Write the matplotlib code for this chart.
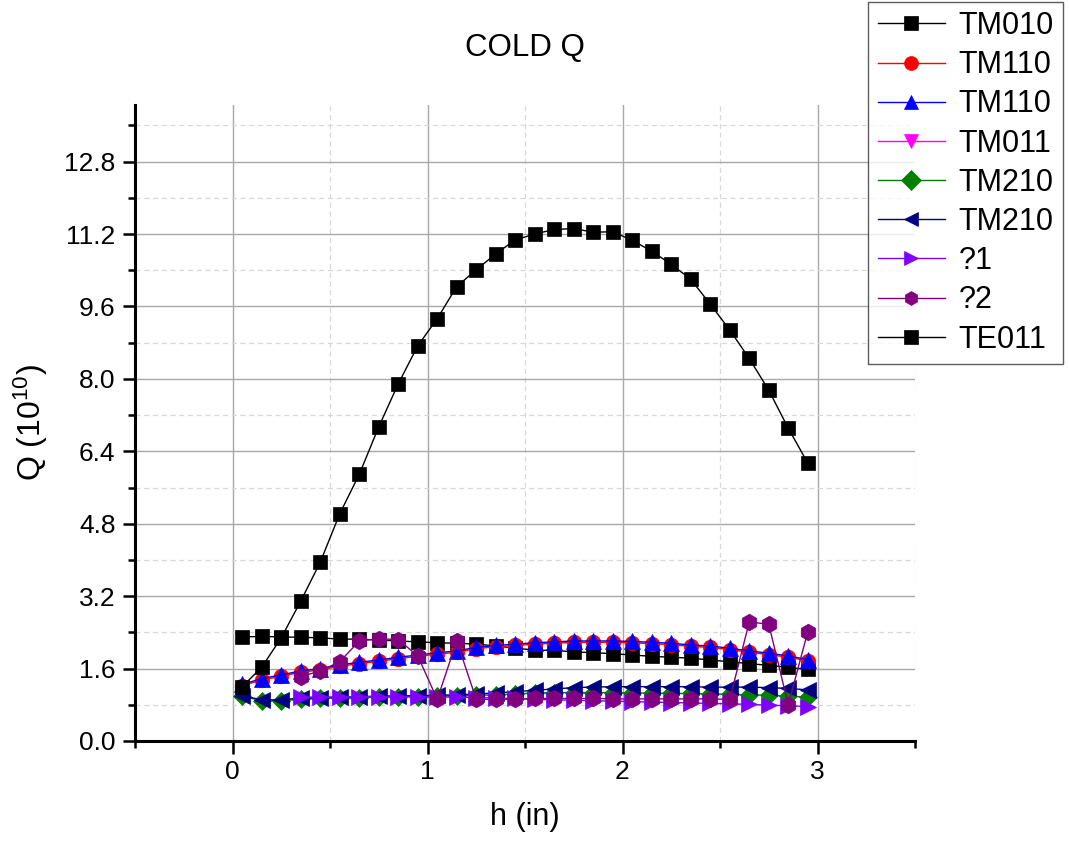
import numpy as np
import matplotlib
matplotlib.use("Agg")
import matplotlib.pyplot as plt
from matplotlib.ticker import MultipleLocator, FormatStrFormatter

plt.rcParams['font.family'] = ['Liberation Sans', 'DejaVu Sans']
plt.rcParams['mathtext.fontset'] = 'custom'
plt.rcParams['mathtext.rm'] = 'Liberation Sans'
plt.rcParams['mathtext.it'] = 'Liberation Sans'
plt.rcParams['mathtext.bf'] = 'Liberation Sans'
plt.rcParams['mathtext.default'] = 'rm'

nan = np.nan
h = [0.05, 0.15, 0.25, 0.35, 0.45, 0.55, 0.65, 0.75, 0.85, 0.95,
     1.05, 1.15, 1.25, 1.35, 1.45, 1.55, 1.65, 1.75, 1.85, 1.95,
     2.05, 2.15, 2.25, 2.35, 2.45, 2.55, 2.65, 2.75, 2.85, 2.95]

tm010 = [2.30, 2.31, 2.30, 2.29, 2.28, 2.25, 2.25, 2.23, 2.21, 2.19,
         2.17, 2.16, 2.14, 2.10, 2.05, 2.01, 2.00, 1.97, 1.95, 1.93,
         1.90, 1.87, 1.85, 1.83, 1.79, 1.75, 1.71, 1.67, 1.63, 1.58]
tm110_red = [1.22, 1.35, 1.43, 1.52, 1.57, 1.65, 1.71, 1.76, 1.82, 1.87,
             1.92, 1.96, 2.04, 2.08, 2.11, 2.14, 2.16, 2.18, 2.18, 2.18,
             2.17, 2.15, 2.13, 2.09, 2.07, 2.02, 1.96, 1.91, 1.85, 1.77]
tm110_blue = [1.25, 1.38, 1.46, 1.55, 1.60, 1.68, 1.74, 1.79, 1.85, 1.90,
              1.95, 1.99, 2.07, 2.11, 2.14, 2.17, 2.19, 2.21, 2.21, 2.21,
              2.20, 2.18, 2.16, 2.12, 2.10, 2.05, 1.99, 1.94, 1.88, 1.80]
tm011 = []  # not visible in the reference (hidden / no data)
tm210_green = [0.99, 0.89, 0.89, 0.92, 0.94, 0.95, 0.96, 0.97, 0.98, 0.98,
               0.99, 1.00, 1.01, 1.02, 1.04, 1.06, 1.07, 1.07, 1.07, 1.07,
               1.06, 1.06, 1.05, 1.05, 1.04, 1.03, 1.02, 1.01, 0.99, 0.97]
tm210_navy = [1.00, 0.91, 0.91, 0.95, 0.96, 0.97, 0.98, 0.99, 1.00, 1.00,
              1.01, 1.02, 1.04, 1.06, 1.09, 1.12, 1.15, 1.18, 1.19, 1.20,
              1.20, 1.20, 1.20, 1.20, 1.19, 1.19, 1.19, 1.18, 1.16, 1.13]
q1 = [nan, nan, nan, 0.97, 0.97, 0.97, 0.98, 0.98, 0.98, 0.98,
      0.97, 0.97, 0.96, 0.95, 0.94, 0.92, 0.91, 0.90, 0.89, 0.88,
      0.87, 0.86, 0.85, 0.84, 0.83, 0.82, 0.81, 0.79, 0.78, 0.76]
q2 = [nan, nan, nan, 1.42, 1.55, 1.75, 2.21, 2.26, 2.24, 1.88,
      0.92, 2.21, 0.92, 0.92, 0.92, 0.94, 0.94, 0.94, 0.94, 0.93,
      0.93, 0.93, 0.93, 0.93, 0.93, 0.92, 2.63, 2.58, 0.80, 2.41]
te011 = [1.20, 1.63, 2.28, 3.09, 3.95, 5.02, 5.89, 6.94, 7.89, 8.73,
         9.33, 10.04, 10.41, 10.76, 11.07, 11.20, 11.30, 11.32, 11.24, 11.25,
         11.06, 10.82, 10.53, 10.20, 9.65, 9.08, 8.45, 7.75, 6.91, 6.14]

series = [
    ("TM010", tm010, "#000000", "s", 9.5),
    ("TM110", tm110_red, "#FF0000", "o", 10.5),
    ("TM110", tm110_blue, "#0000FF", "^", 11.5),
    ("TM011", tm011, "#FF00FF", "v", 11.5),
    ("TM210", tm210_green, "#008000", "D", 9),
    ("TM210", tm210_navy, "#000080", "<", 11.5),
    ("?1", q1, "#8000FF", ">", 11.5),
    ("?2", q2, "#800080", "h", 12),
    ("TE011", te011, "#000000", "s", 9.5),
]

W, H = 1069, 842
fig = plt.figure(figsize=(W / 100, H / 100), dpi=100)
ax = fig.add_axes([135 / W, 1 - 741 / H, (915 - 135) / W, (741 - 105) / H])

for name, vals, col, mk, ms in series:
    xs = h[:len(vals)]
    ax.plot(xs, vals, color=col, lw=1.0, marker=mk, markersize=ms,
            markerfacecolor=col, markeredgecolor=col, markeredgewidth=0.5,
            label=name)

ax.set_xlim(-0.5, 3.5)
ax.set_ylim(0, 14.05)
ax.xaxis.set_major_locator(MultipleLocator(1))
ax.xaxis.set_minor_locator(MultipleLocator(0.5))
ax.yaxis.set_major_locator(MultipleLocator(1.6))
ax.yaxis.set_minor_locator(MultipleLocator(0.8))
ax.yaxis.set_major_formatter(FormatStrFormatter('%.1f'))

ax.grid(which='major', color='#A8A8A8', lw=1.0, ls='-')
ax.grid(which='minor', color='#D8D8D8', lw=0.9, ls=(0, (4, 3)))
ax.set_axisbelow(True)

for s in ['top', 'right']:
    ax.spines[s].set_visible(False)
for s in ['left', 'bottom']:
    ax.spines[s].set_linewidth(2.2)

ax.tick_params(which='major', direction='out', length=9, width=1.8,
               labelsize=19, pad=5)
ax.tick_params(which='minor', direction='out', length=5, width=1.8)

ax.set_title("COLD Q", fontsize=22.5, pad=35)
ax.set_xlabel("h (in)", fontsize=22, labelpad=13)
ax.set_ylabel("Q (10$^{10}$)", fontsize=23, labelpad=10)

leg = fig.legend(loc='upper right', bbox_to_anchor=(1063 / W, 1 - 2 / H),
                 fontsize=22, frameon=True, fancybox=False, edgecolor='#333333',
                 handlelength=2.2, handletextpad=0.45, labelspacing=0.3,
                 borderpad=0.3, borderaxespad=0)
leg.get_frame().set_linewidth(1.0)
for lh in leg.legend_handles:
    lh.set_markersize(10)

fig.savefig("out.png", dpi=100)
